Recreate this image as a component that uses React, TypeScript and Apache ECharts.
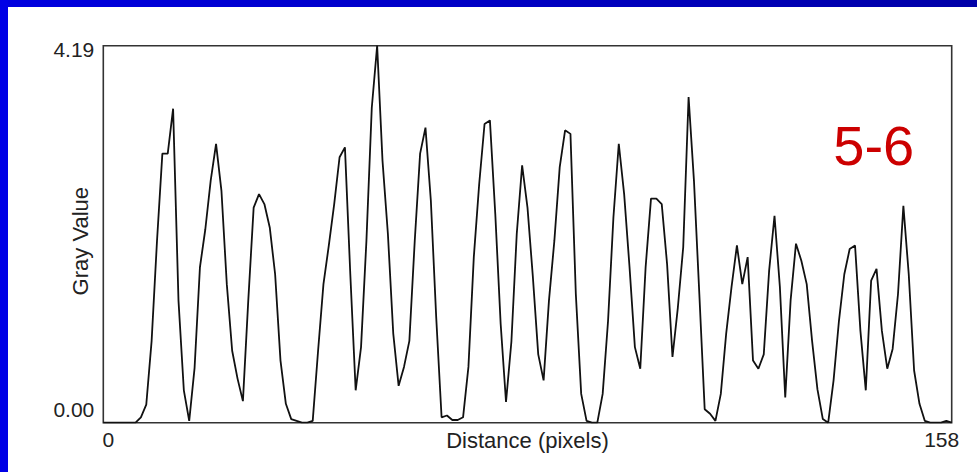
import React, { useEffect, useRef } from "react";
import * as echarts from "echarts";

// Gray value profile along distance (pixels 0..158)
const grayValues: number[] = [
  0, 0, 0, 0, 0, 0, 0.0, 0.06, 0.2, 0.91,
  2.02, 2.99, 2.99, 3.49, 1.36, 0.36, 0.02, 0.61, 1.73, 2.15,
  2.69, 3.1, 2.58, 1.54, 0.8, 0.49, 0.24, 1.36, 2.39, 2.54,
  2.43, 2.17, 1.65, 0.69, 0.21, 0.04, 0.02, 0, 0, 0.02,
  0.8, 1.54, 1.97, 2.43, 2.95, 3.06, 1.65, 0.36, 0.84, 2.02,
  3.5, 4.19, 2.91, 2.1, 0.99, 0.41, 0.62, 0.91, 2.02, 2.99,
  3.28, 2.47, 1.17, 0.06, 0.08, 0.03, 0.03, 0.06, 0.62, 1.84,
  2.65, 3.32, 3.36, 2.32, 1.1, 0.23, 0.9, 2.1, 2.86, 2.39,
  1.62, 0.76, 0.47, 1.36, 2.02, 2.84, 3.25, 3.21, 1.43, 0.32,
  0.02, 0, 0, 0.32, 1.13, 2.28, 3.1, 2.54, 1.73, 0.84,
  0.6, 1.73, 2.49, 2.49, 2.43, 1.76, 0.73, 1.28, 1.95, 3.62,
  2.69, 1.43, 0.15, 0.1, 0.02, 0.32, 0.99, 1.51, 1.97, 1.54,
  1.84, 0.69, 0.6, 0.76, 1.69, 2.3, 1.51, 0.28, 1.36, 1.99,
  1.8, 1.54, 0.91, 0.37, 0.04, 0, 0.47, 1.13, 1.65, 1.93,
  1.97, 1.02, 0.36, 1.58, 1.71, 1.02, 0.6, 0.82, 1.43, 2.41,
  1.65, 0.58, 0.21, 0.02, 0, 0, 0, 0.02, 0,
];

const xTickLabels: number[] = [0, 158];
const yTickLabels: number[] = [0, 4.19];
const xAxisTitle = "Distance (pixels)";
const yAxisTitle = "Gray Value";
const annotation = "5-6";

const FONT = "'Liberation Sans', Arial, Helvetica, sans-serif";

export default function App() {
  const ref = useRef<HTMLDivElement>(null);

  useEffect(() => {
    if (!ref.current) return;
    const chart = echarts.init(ref.current, undefined, { renderer: "svg" });
    const seriesData = grayValues.map((v, i) => [i, v]);
    const xMin = xTickLabels[0];
    const xMax = xTickLabels[xTickLabels.length - 1];
    const yMin = yTickLabels[0];
    const yMax = yTickLabels[yTickLabels.length - 1];

    const tickStyle = { fontSize: 21, fontFamily: FONT, color: "#222" };

    chart.setOption({
      animation: false,
      backgroundColor: "#ffffff",
      grid: {
        left: 95.3,
        top: 38.7,
        right: 25.3,
        bottom: 49.3,
        containLabel: false,
        outerBoundsMode: "none",
        show: true,
        borderColor: "#333",
        borderWidth: 1.6,
        backgroundColor: "#fff",
      },
      xAxis: {
        type: "value",
        min: xMin,
        max: xMax,
        interval: xMax - xMin,
        splitLine: { show: false },
        axisLine: { show: false },
        axisTick: { show: false },
        axisLabel: {
          margin: 6,
          formatter: (v: number) =>
            v === xMin ? `{lo|${v}}` : `{hi|${v}}`,
          rich: {
            lo: { ...tickStyle, padding: [0, 0, 0, 10] },
            hi: { ...tickStyle, padding: [0, 20, 0, 0] },
          },
        },
        name: xAxisTitle,
        nameLocation: "middle",
        nameGap: 7,
        nameMoveOverlap: false,
        nameTextStyle: {
          fontSize: 22,
          fontFamily: FONT,
          color: "#222",
          verticalAlign: "top",
        },
      },
      yAxis: {
        type: "value",
        min: yMin,
        max: yMax,
        interval: yMax - yMin,
        splitLine: { show: false },
        axisLine: { show: false },
        axisTick: { show: false },
        axisLabel: {
          margin: 9,
          formatter: (v: number) =>
            v === yMin ? `{lo|${v.toFixed(2)}}` : `{hi|${v.toFixed(2)}}`,
          rich: {
            lo: { ...tickStyle, padding: [0, 0, 26, 0] },
            hi: { ...tickStyle, padding: [8, 0, 0, 0] },
          },
        },
        name: yAxisTitle,
        nameLocation: "middle",
        nameGap: 12,
        nameMoveOverlap: false,
        nameTextStyle: {
          fontSize: 22,
          fontFamily: FONT,
          color: "#222",
          padding: [0, 14, 0, 0],
        },
      },
      series: [
        {
          type: "line",
          data: seriesData,
          showSymbol: false,
          symbol: "none",
          lineStyle: { color: "#111", width: 1.8 },
        },
      ],
      graphic: [
        {
          type: "text",
          x: 865.7,
          y: 138.5,
          style: {
            text: annotation,
            fontSize: 56,
            fontFamily: FONT,
            fill: "#cc0000",
            textAlign: "center",
            textVerticalAlign: "middle",
          },
        },
      ],
    });
    return () => chart.dispose();
  }, []);

  return (
    <div
      style={{
        position: "fixed",
        left: 0,
        top: 0,
        width: 977,
        height: 472,
        background: "#fff",
        overflow: "hidden",
      }}
    >
      <div
        ref={ref}
        style={{
          position: "absolute",
          left: 8,
          top: 7,
          width: 969,
          height: 465,
          background: "#fff",
        }}
      />
      <div
        style={{
          position: "absolute",
          left: 0,
          top: 0,
          width: 977,
          height: 7,
          background: "linear-gradient(to right, #0000e0, #0000a8)",
        }}
      />
      <div
        style={{
          position: "absolute",
          left: 0,
          top: 0,
          width: 8,
          height: 472,
          background: "#0000e6",
        }}
      />
    </div>
  );
}
